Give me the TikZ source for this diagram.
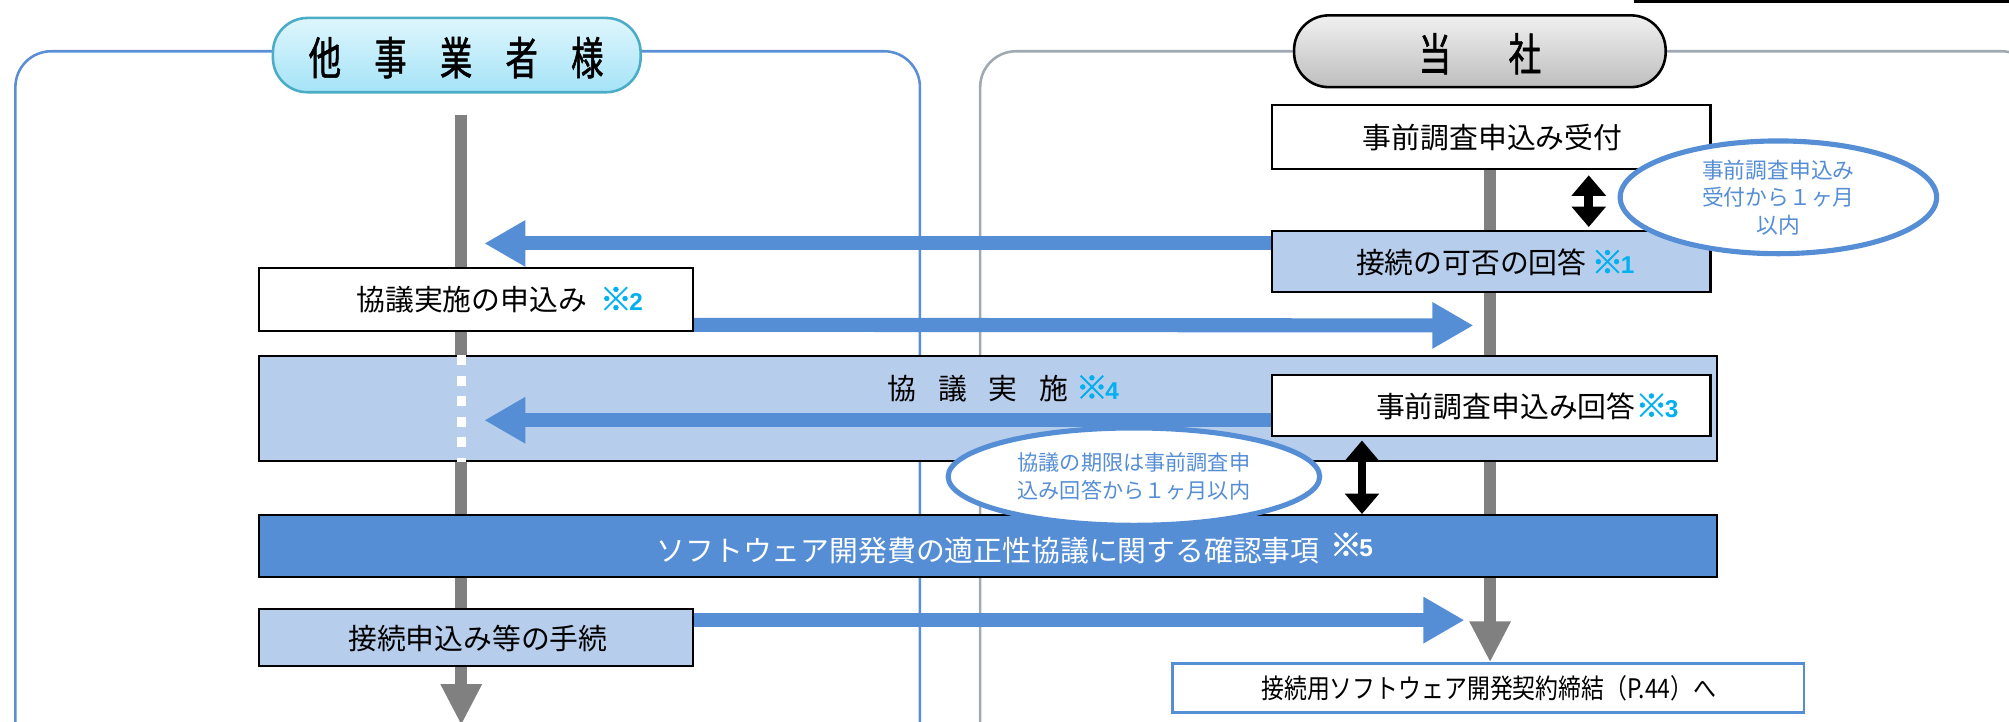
\documentclass[tikz,border=0pt]{standalone}
\usepackage{fontspec}
\setmainfont{Noto Sans CJK JP}
\newfontfamily\jpcond[FakeStretch=0.72,FakeBold=1.2]{Noto Sans CJK JP}
\newfontfamily\jpnarrow[FakeStretch=0.85]{Noto Sans CJK JP}
\newfontfamily\jpbold[FakeBold=1.5]{Noto Sans CJK JP}
\newfontfamily\arialb{Liberation Sans}
\usetikzlibrary{arrows.meta,shapes.geometric}
\definecolor{arrowblue}{RGB}{85,142,213}
\definecolor{panelblue}{RGB}{90,143,214}
\definecolor{panelgray}{RGB}{160,168,178}
\definecolor{lightblue}{RGB}{183,205,236}
\definecolor{noteblue}{RGB}{0,176,240}
\definecolor{linegray}{RGB}{128,128,128}
\definecolor{pilltop}{RGB}{222,246,253}
\definecolor{pillbot}{RGB}{165,227,247}
\definecolor{pillborder}{RGB}{75,172,198}
\definecolor{graytop}{RGB}{240,240,240}
\definecolor{graybot}{RGB}{190,190,190}
\newcommand{\mynote}[1]{{\jpbold\fontsize{25}{26}\selectfont ※}\kern-2pt{\arialb\bfseries\fontsize{19}{22}\selectfont #1}}
\pgfdeclarelayer{bg}
\pgfsetlayers{bg,main}
\tikzset{
  boxw/.style={draw=black,line width=1.6pt,fill=white,inner sep=0pt},
  boxl/.style={draw=black,line width=1.6pt,fill=lightblue,inner sep=0pt},
  txt/.style={font=\fontsize{22.5}{26}\selectfont,inner sep=0pt},
  bluearrow/.style={draw=arrowblue,line width=11pt,-{Triangle[length=32pt,width=34pt]}},
  grayline/.style={draw=linegray,line width=9pt,-{Triangle[length=32pt,width=30pt]}},
  dblarrow/.style={draw=black,line width=7pt,{Triangle[length=16pt,width=26pt]}-{Triangle[length=16pt,width=26pt]}},
  ell/.style={ellipse,draw=arrowblue,line width=4pt,fill=white,inner sep=0pt,text=arrowblue,align=center},
  panel/.style={line width=2pt,rounded corners=28pt},
  pill/.style={rounded corners=27pt,line width=2pt,inner sep=0pt},
}
\begin{document}
\begin{tikzpicture}[x=1pt,y=-1pt]
\useasboundingbox (0,0) rectangle (1568,563);
\clip (0,0) rectangle (1568,563);

% panels
\draw[panel,draw=panelblue] (12,620) -- (12,40) -- (718,40) -- (718,620);
\draw[panel,draw=panelgray] (765,620) -- (765,40) -- (1590,40) -- (1590,620);

% header pills
\node[pill,draw=pillborder,top color=pilltop,bottom color=pillbot,minimum width=287pt,minimum height=58pt] (hdrL) at (356.5,43) {};
\node[font=\jpcond\fontsize{35}{36}\selectfont,inner sep=0pt] (hdrLt) at (356,45) {他\hspace{26pt}事\hspace{26pt}業\hspace{26pt}者\hspace{26pt}様};
\node[pill,draw=black,top color=graytop,bottom color=graybot,minimum width=290pt,minimum height=56pt] (hdrR) at (1155,40) {};
\node[font=\jpcond\fontsize{35}{36}\selectfont,inner sep=0pt] (hdrRt) at (1155,42) {当\hspace{45pt}社};

\draw[line width=2.5pt] (1275,1) -- (1568,1);

% boxes
\node[boxw,minimum width=342pt,minimum height=50pt] (b1) at (1164,107) {};
\node[boxl,minimum width=342pt,minimum height=48pt] (b2) at (1164,204) {};
\node[boxw,minimum width=339pt,minimum height=49pt] (b3) at (371.5,233.5) {};
\node[boxl,minimum width=1138pt,minimum height=82pt] (big) at (771,319) {};
\node[boxw,minimum width=342pt,minimum height=47pt] (b4) at (1164,316.5) {};
\node[draw=black,line width=1.6pt,fill=arrowblue,inner sep=0pt,minimum width=1138pt,minimum height=48pt] (dark) at (771,426) {};
\node[boxl,minimum width=339pt,minimum height=45pt] (b5) at (371.5,497.5) {};
\node[draw=arrowblue,line width=2pt,fill=white,inner sep=0pt,minimum width=493pt,minimum height=38pt] (b6) at (1161.5,537) {};

% gray flow lines (behind boxes)
\coordinate (lt) at (360,90);
\coordinate (lb) at (360,566);
\begin{pgfonlayer}{bg}
\draw[grayline] (lt) -- (lb);
\draw[grayline] (b1.south -| 1163,0) -- (b6.north -| 1163,0);
\end{pgfonlayer}

% dotted white on big box
\draw[white,line width=7pt,dash pattern=on 8pt off 8pt] (big.north -| lt) -- (big.south -| lt);

% blue arrows
\coordinate (a1e) at (378,190);
\coordinate (a2e) at (1150,254);
\coordinate (a3e) at (378,328);
\coordinate (a4e) at (1143,484);
\draw[bluearrow] ([yshift=14pt]b2.west) -- (a1e);
\draw[bluearrow] ([yshift=-20pt]b3.east) -- (a2e);
\draw[bluearrow] ([yshift=-11.5pt]b4.west) -- (a3e);
\draw[bluearrow] ([yshift=13.5pt]b5.east) -- (a4e);

% black double arrows
\draw[dblarrow] ([xshift=76pt,yshift=-4pt]b1.south) -- ([xshift=76pt,yshift=2pt]b2.north);
\draw[dblarrow] ([xshift=-101pt,yshift=-3pt]b4.south) -- ([xshift=-101pt]b4.south |- dark.north);

% ellipses
\node[ell,minimum width=247pt,minimum height=88pt,font=\fontsize{17}{21.5}\selectfont] (e1) at (1388,154) {事前調査申込み\\受付から１ヶ月\\以内};
\node[ell,minimum width=290pt,minimum height=76pt,font=\fontsize{16.5}{22}\selectfont] (e2) at (885,372) {協議の期限は事前調査申\\込み回答から１ヶ月以内};

% texts
\node[txt] (t1) at (1165,107) {事前調査申込み受付};
\node[txt] (t2) at (1167,205) {接続の可否の回答\,{\color{noteblue}\mynote{1}}};
\node[txt] (t3) at (390,234) {協議実施の申込み\hspace{10pt}{\color{noteblue}\mynote{2}}};
\node[txt] (t4) at (783,303) {協\hspace{17pt}議\hspace{17pt}実\hspace{17pt}施\hspace{6pt}{\color{noteblue}\mynote{4}}};
\node[txt] (t5) at (1192,317) {事前調査申込み回答{\color{noteblue}\mynote{3}}};
\node[txt,text=white] (t6) at (792,428) {ソフトウェア開発費の適正性協議に関する確認事項\hspace{8pt}\raisebox{4pt}{\mynote{5}}};
\node[txt] (t7) at (373,498) {接続申込み等の手続};
\node[inner sep=0pt,font=\jpnarrow\fontsize{21}{24}\selectfont] (t8) at (1162,537) {接続用ソフトウェア開発契約締結（P.44）へ};
\end{tikzpicture}
\end{document}
